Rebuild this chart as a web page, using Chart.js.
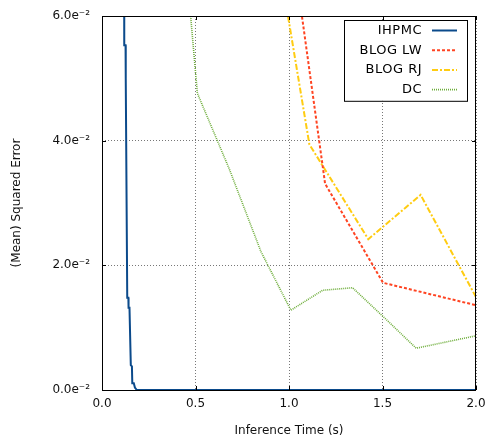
<!DOCTYPE html>
<html>
<head>
<meta charset="utf-8">
<script src="https://cdn.jsdelivr.net/npm/chart.js@4.4.1/dist/chart.umd.min.js"></script>
<style>
  html, body { margin: 0; padding: 0; background: #fff; }
  #wrap { width: 487px; height: 438px; }
</style>
</head>
<body>
<div id="wrap"><canvas id="mseChart"></canvas></div>
<script>
// Series
const ihpmcTime = [0.118, 0.119, 0.126, 0.127, 0.135, 0.141, 0.142, 0.147, 0.154, 0.160, 0.162, 0.170, 0.176, 0.186, 0.20, 2.0];
const ihpmcErr  = [0.075, 0.0553, 0.0553, 0.050, 0.0148, 0.0148, 0.0132, 0.0132, 0.0040, 0.0038, 0.0011, 0.0011, 0.0004, 0.0, 0.0, 0.0];

const lwTime = [1.0, 1.193, 1.503, 2.0];
const lwErr  = [0.075, 0.0331, 0.0172, 0.0136];

const rjTime = [0.9, 1.109, 1.424, 1.704, 2.0];
const rjErr  = [0.077, 0.0394, 0.0242, 0.0313, 0.0149];

const dcTime = [0.34, 0.51, 0.68, 0.85, 1.01, 1.18, 1.34, 1.51, 1.68, 2.0];
const dcErr  = [0.106, 0.0476, 0.0355, 0.0222, 0.0128, 0.0160, 0.0164, 0.0116, 0.0067, 0.0087];

const xTicks = [0.0, 0.5, 1.0, 1.5, 2.0];
const yTicks = [0.0, 0.02, 0.04, 0.06];

const FONT = "'DejaVu Sans', sans-serif";

function pts(xs, ys) {
    return xs.map((x, i) => ({ x: x, y: ys[i] }));
}

// frame, inner tick marks and a gnuplot-style legend (text left, sample right)
const framePlugin = {
    id: 'frame',
    afterDraw(chart) {
        const ctx = chart.ctx;
        const a = chart.chartArea;
        const xs = chart.scales.x, ys = chart.scales.y;
        ctx.save();
        ctx.strokeStyle = '#000';
        ctx.lineWidth = 1;
        ctx.setLineDash([]);
        ctx.beginPath();
        xTicks.forEach(v => {
            const px = Math.round(xs.getPixelForValue(v)) + 0.5;
            ctx.moveTo(px, a.bottom); ctx.lineTo(px, a.bottom - 4);
            ctx.moveTo(px, a.top); ctx.lineTo(px, a.top + 4);
        });
        yTicks.forEach(v => {
            const py = Math.round(ys.getPixelForValue(v)) + 0.5;
            ctx.moveTo(a.left, py); ctx.lineTo(a.left + 4, py);
            ctx.moveTo(a.right, py); ctx.lineTo(a.right - 4, py);
        });
        ctx.stroke();
        ctx.strokeRect(Math.round(a.left) + 0.5, Math.round(a.top) + 0.5,
            Math.round(a.right - a.left) - 1, Math.round(a.bottom - a.top));

        // legend
        const boxR = a.right - 9, boxT = a.top + 4, boxW = 123, rowH = 19.7;
        const sets = chart.data.datasets;
        const boxH = rowH * sets.length + 2;
        ctx.fillStyle = '#fff';
        ctx.fillRect(boxR - boxW, boxT, boxW, boxH);
        ctx.strokeStyle = '#000';
        ctx.strokeRect(Math.round(boxR - boxW) + 0.5, Math.round(boxT) + 0.5, boxW, boxH);
        ctx.font = '13px ' + FONT;
        ctx.letterSpacing = '0.5px';
        ctx.textAlign = 'right';
        ctx.textBaseline = 'middle';
        sets.forEach((ds, i) => {
            const cy = boxT + 10.5 + i * rowH;
            ctx.fillStyle = '#000';
            ctx.fillText(ds.label, boxR - 45, cy);
            ctx.strokeStyle = ds.borderColor;
            ctx.lineWidth = ds.borderWidth;
            ctx.setLineDash(ds.borderDash || []);
            ctx.beginPath();
            ctx.moveTo(boxR - 35, cy);
            ctx.lineTo(boxR - 10, cy);
            ctx.stroke();
        });
        ctx.restore();
    }
};

const ctx = document.getElementById('mseChart');
new Chart(ctx, {
    type: 'line',
    data: {
        datasets: [{
            label: 'IHPMC',
            data: pts(ihpmcTime, ihpmcErr),
            borderColor: '#0b4a8b',
            borderWidth: 2
        }, {
            label: 'BLOG LW',
            data: pts(lwTime, lwErr),
            borderColor: '#ff4422',
            borderWidth: 2,
            borderDash: [3, 2]
        }, {
            label: 'BLOG RJ',
            data: pts(rjTime, rjErr),
            borderColor: '#ffcc11',
            borderWidth: 2,
            borderDash: [6, 2, 2, 2]
        }, {
            label: 'DC',
            data: pts(dcTime, dcErr),
            borderColor: '#6fae3c',
            borderWidth: 1.6,
            borderDash: [1, 1]
        }]
    },
    options: {
        responsive: true,
        maintainAspectRatio: false,
        animation: false,
        events: [],
        elements: {
            point: { radius: 0 },
            line: { tension: 0 }
        },
        layout: { padding: { top: 16, right: 11, left: 0, bottom: 0 } },
        plugins: {
            legend: { display: false },
            tooltip: { enabled: false }
        },
        scales: {
            x: {
                type: 'linear',
                min: 0,
                max: 2,
                afterBuildTicks: s => { s.ticks = xTicks.map(v => ({ value: v })); },
                afterFit: s => { s.height = 48; s.paddingLeft = 0; s.paddingRight = 0; },
                ticks: {
                    padding: 7,
                    color: '#111',
                    font: { family: FONT, size: 12 },
                    callback: v => v.toFixed(1)
                },
                grid: { color: '#777', drawTicks: false },
                border: { display: false, dash: [1, 2] },
                title: {
                    display: true,
                    text: 'Inference Time (s)',
                    color: '#111',
                    font: { family: FONT, size: 12 },
                    padding: { top: 0, bottom: 0 }
                }
            },
            y: {
                min: 0,
                max: 0.06,
                afterBuildTicks: s => { s.ticks = yTicks.map(v => ({ value: v })); },
                afterFit: s => { s.width = 102; s.paddingTop = 0; s.paddingBottom = 0; },
                ticks: {
                    padding: 12,
                    color: '#111',
                    font: { family: FONT, size: 12 },
                    callback: v => (v * 100).toFixed(1) + 'e\u207B\u00B2'
                },
                grid: { color: '#777', drawTicks: false },
                border: { display: false, dash: [1, 2] },
                title: {
                    display: true,
                    text: '(Mean) Squared Error',
                    color: '#111',
                    font: { family: FONT, size: 12 },
                    padding: { top: 10, bottom: 0 }
                }
            }
        }
    },
    plugins: [framePlugin]
});
</script>
</body>
</html>
